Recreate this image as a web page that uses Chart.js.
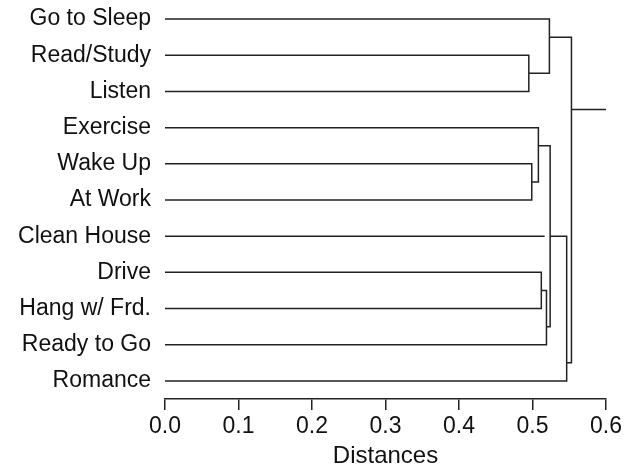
<!DOCTYPE html>
<html><head><meta charset="utf-8">
<script src="https://cdn.jsdelivr.net/npm/chart.js@4/dist/chart.umd.min.js"></script>
<style>html,body{margin:0;padding:0;background:#fff;}</style>
</head><body>
<canvas id="c" width="634" height="476"></canvas>
<script>
// Leaves (top to bottom)
const leaves = ['Go to Sleep', 'Read/Study', 'Listen', 'Exercise', 'Wake Up', 'At Work',
  'Clean House', 'Drive', 'Hang w/ Frd.', 'Ready to Go', 'Romance'];
// Merges: ids < 11 are leaves, id 11+k is the k-th merge
const joinA = [1, 0, 4, 3, 7, 6, 15, 14, 18, 12];
const joinB = [2, 11, 5, 13, 8, 16, 9, 17, 10, 19];
const joinHeight = [0.495, 0.523, 0.499, 0.508, 0.512, 0.5165, 0.519, 0.524, 0.5465, 0.553];
const xTicks = [0.0, 0.1, 0.2, 0.3, 0.4, 0.5, 0.6];
const xMax = 0.6;
const axisTitle = 'Distances';

const n = leaves.length;
const pos = [], lo = [], hi = [], ht = [];
for (let i = 0; i < n; i++) { pos[i] = i; lo[i] = i; hi[i] = i; ht[i] = 0; }
const lineColor = '#222';
const datasets = [];
joinA.forEach((a, k) => {
  const b = joinB[k];
  const up = lo[a] < lo[b] ? a : b;
  const dn = up === a ? b : a;
  const id = n + k;
  lo[id] = lo[up]; hi[id] = hi[dn];
  pos[id] = (hi[up] + lo[dn]) / 2;
  ht[id] = joinHeight[k];
  datasets.push({
    data: [{x: ht[up], y: pos[up]}, {x: ht[id], y: pos[up]}, {x: ht[id], y: pos[dn]}, {x: ht[dn], y: pos[dn]}]
  });
});
const root = n + joinA.length - 1;
datasets.push({ data: [{x: ht[root], y: pos[root]}, {x: xMax, y: pos[root]}] });
datasets.forEach(d => Object.assign(d, {
  showLine: true, pointRadius: 0, borderColor: lineColor, borderWidth: 1.5,
  tension: 0, fill: false, clip: false
}));

const fam = "'Liberation Sans', Arial, sans-serif";
new Chart(document.getElementById('c'), {
  type: 'scatter',
  data: { datasets },
  options: {
    responsive: false, animation: false,
    layout: { padding: { top: 1, right: 28, left: 0, bottom: 0 } },
    plugins: { legend: { display: false }, tooltip: { enabled: false } },
    scales: {
      x: {
        type: 'linear', position: 'bottom', min: 0, max: xMax,
        afterBuildTicks: s => { s.ticks = xTicks.map(v => ({value: v})); },
        afterFit: s => { s.height = 77; s.paddingLeft = 0; s.paddingRight = 0; },
        ticks: { callback: v => Number(v).toFixed(1), font: {family: fam, size: 23}, color: '#111', padding: 3, maxRotation: 0 },
        grid: { drawOnChartArea: false, drawTicks: true, tickLength: 11, color: lineColor, lineWidth: 1.5 },
        border: { display: true, color: lineColor, width: 1.5 },
        title: { display: true, text: axisTitle, font: {family: fam, size: 24}, color: '#111', padding: { top: 0, bottom: 5 } }
      },
      y: {
        type: 'linear', min: -0.5, max: n - 0.5, reverse: true,
        afterBuildTicks: s => { s.ticks = leaves.map((_, i) => ({value: i})); },
        afterFit: s => { s.width = 165; s.paddingTop = 0; s.paddingBottom = 0; },
        ticks: { callback: v => leaves[v], font: {family: fam, size: 23}, color: '#111', padding: 14 },
        grid: { display: false, drawTicks: false },
        border: { display: false }
      }
    }
  }
});
</script>
</body></html>
